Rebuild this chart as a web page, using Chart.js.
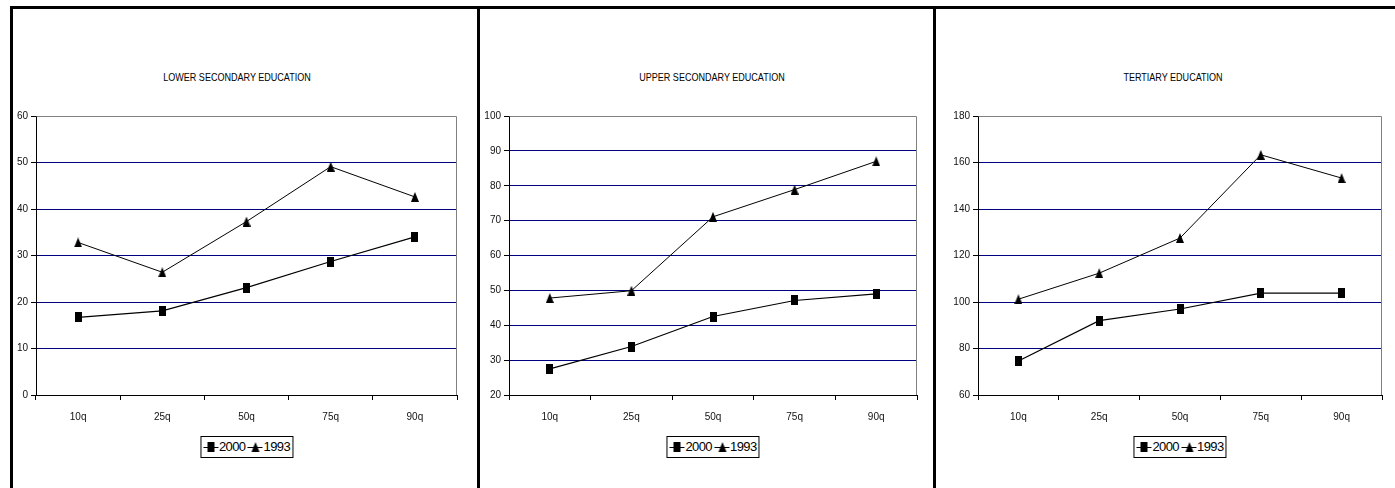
<!DOCTYPE html>
<html>
<head>
<meta charset="utf-8">
<title>Earnings by quantile, 1993 and 2000</title>
<script src="https://cdn.jsdelivr.net/npm/chart.js@4/dist/chart.umd.min.js"></script>
<style>
  html, body { margin: 0; padding: 0; background: #fff; }
  body {
    position: relative; width: 1395px; height: 488px; overflow: hidden;
    font-family: "Liberation Sans Narrow", "Arial Narrow", "Liberation Sans", Arial, sans-serif;
    color: #000;
  }
  .rule { position: absolute; background: #000; }
  .title {
    position: absolute; top: 71px; font-size: 10.5px; line-height: 12px;
    white-space: nowrap; transform: translateX(-50%) scaleX(0.86);
  }
  canvas.plot { position: absolute; top: 100px; }
  .legend {
    position: absolute; top: 436px; height: 20px; box-sizing: content-box;
    border: 1px solid #000; background: #fff; transform: translateX(-50%);
    display: flex; align-items: center; padding: 0 2px;
    font-size: 13px; letter-spacing: -0.6px; line-height: 20px; white-space: nowrap;
  }
  .legend .item { display: flex; align-items: center; margin-right: 2px; }
  .legend .item:last-child { margin-right: 0; }
  .legend canvas { display: block; margin-right: 1px; }
</style>
</head>
<body>

<div class="rule" style="left:10px;top:6px;width:1385px;height:3px"></div>
<div class="rule" style="left:10px;top:6px;width:3px;height:482px"></div>
<div class="rule" style="left:477px;top:6px;width:3px;height:482px"></div>
<div class="rule" style="left:933px;top:6px;width:3px;height:482px"></div>

<div class="title" id="t1" style="left:237px">LOWER SECONDARY EDUCATION</div>
<div class="title" id="t2" style="left:712px">UPPER SECONDARY EDUCATION</div>
<div class="title" id="t3" style="left:1173px">TERTIARY EDUCATION</div>

<canvas class="plot" id="c1" style="left:13px" width="464" height="330"></canvas>
<canvas class="plot" id="c2" style="left:480px" width="453" height="330"></canvas>
<canvas class="plot" id="c3" style="left:936px" width="459" height="330"></canvas>

<div class="legend" id="l1" style="left:246.5px"></div>
<div class="legend" id="l2" style="left:713px"></div>
<div class="legend" id="l3" style="left:1180px"></div>

<script>
// Quantile categories shared by all three panels
const quantiles = ['10q', '25q', '50q', '75q', '90q'];
const seriesLabels = ['2000', '1993'];

// Lower secondary education
const lowerSec2000 = [16.7, 18.1, 23.1, 28.7, 34.0];
const lowerSec1993 = [32.8, 26.4, 37.3, 49.1, 42.6];
const lowerSecTicks = [0, 10, 20, 30, 40, 50, 60];

// Upper secondary education
const upperSec2000 = [27.5, 33.9, 42.5, 47.1, 49.0];
const upperSec1993 = [47.8, 49.9, 71.1, 78.9, 87.0];
const upperSecTicks = [20, 30, 40, 50, 60, 70, 80, 90, 100];

// Tertiary education
const tertiary2000 = [74.6, 92.0, 97.0, 103.8, 103.8];
const tertiary1993 = [101.2, 112.4, 127.5, 163.3, 153.3];
const tertiaryTicks = [60, 80, 100, 120, 140, 160, 180];

const FONT = '"Liberation Sans Narrow", "Arial Narrow", "Liberation Sans", Arial, sans-serif';
const GRID = '#000080';
const FRAME = '#808080';

// Marker glyphs (slightly taller than wide)
function squareMarker() {
  const c = document.createElement('canvas');
  c.width = 7; c.height = 10;
  const g = c.getContext('2d');
  g.fillStyle = '#000';
  g.fillRect(0, 0, 7, 10);
  return c;
}
function triangleMarker() {
  const c = document.createElement('canvas');
  c.width = 8; c.height = 10;
  const g = c.getContext('2d');
  g.fillStyle = '#000';
  g.beginPath();
  g.moveTo(4, 0); g.lineTo(8, 10); g.lineTo(0, 10); g.closePath();
  g.fill();
  return c;
}

// Gray top and right edges of the plotting area
const plotFrame = {
  id: 'plotFrame',
  beforeDatasetsDraw(chart) {
    const { ctx, chartArea: a } = chart;
    ctx.save();
    ctx.strokeStyle = FRAME;
    ctx.lineWidth = 1;
    ctx.beginPath();
    ctx.moveTo(Math.round(a.left) + 0.5, Math.round(a.top) + 0.5);
    ctx.lineTo(Math.round(a.right) - 0.5, Math.round(a.top) + 0.5);
    ctx.lineTo(Math.round(a.right) - 0.5, Math.round(a.bottom));
    ctx.stroke();
    ctx.restore();
  }
};

// Boxed legend built from the chart's datasets
const boxedLegend = {
  id: 'boxedLegend',
  afterUpdate(chart, args, opts) {
    const box = document.getElementById(opts.containerID);
    box.innerHTML = '';
    chart.data.datasets.forEach(ds => {
      const item = document.createElement('span');
      item.className = 'item';
      const icon = document.createElement('canvas');
      icon.width = 15; icon.height = 12;
      const g = icon.getContext('2d');
      g.strokeStyle = '#000'; g.lineWidth = 1;
      g.beginPath(); g.moveTo(0, 6.5); g.lineTo(15, 6.5); g.stroke();
      const m = ds.pointStyle;
      g.drawImage(m, Math.round((15 - m.width) / 2), Math.round((12 - m.height) / 2));
      const txt = document.createElement('span');
      txt.textContent = ds.label;
      item.appendChild(icon);
      item.appendChild(txt);
      box.appendChild(item);
    });
  }
};

function makePanel(canvasId, legendId, v2000, v1993, ticks, yWidth, padRight) {
  const lo = ticks[0], hi = ticks[ticks.length - 1];
  const step = ticks[1] - ticks[0];
  return new Chart(document.getElementById(canvasId), {
    type: 'line',
    data: {
      labels: quantiles,
      datasets: [
        { label: seriesLabels[0], data: v2000, borderColor: '#000', borderWidth: 1.2,
          pointStyle: squareMarker(), pointRadius: 5, fill: false, tension: 0 },
        { label: seriesLabels[1], data: v1993, borderColor: '#000', borderWidth: 1,
          pointStyle: triangleMarker(), pointRadius: 5, fill: false, tension: 0 }
      ]
    },
    options: {
      responsive: false,
      animation: false,
      events: [],
      layout: { padding: { top: 16, right: padRight, bottom: 0, left: 0 } },
      plugins: {
        legend: { display: false },
        title: { display: false },
        tooltip: { enabled: false },
        boxedLegend: { containerID: legendId }
      },
      scales: {
        x: {
          type: 'category',
          offset: true,
          border: { display: true, color: '#000', width: 1 },
          grid: { display: true, drawOnChartArea: false, offset: true,
                  tickLength: 5, tickColor: '#000', tickWidth: 1 },
          ticks: { color: '#111', padding: 11, maxRotation: 0,
                   font: { family: FONT, size: 10 } },
          afterFit(scale) { scale.height = 35; }
        },
        y: {
          min: lo, max: hi,
          border: { display: true, color: '#000', width: 1 },
          grid: {
            tickLength: 5, tickColor: '#000', tickWidth: 1, lineWidth: 1,
            color: c => (c.tick && (c.tick.value === hi || c.tick.value === lo)) ? 'rgba(0,0,0,0)' : GRID
          },
          ticks: { stepSize: step, color: '#111', padding: 3,
                   font: { family: FONT, size: 10 } },
          afterFit(scale) { scale.width = yWidth; }
        }
      }
    },
    plugins: [plotFrame, boxedLegend]
  });
}

makePanel('c1', 'l1', lowerSec2000, lowerSec1993, lowerSecTicks, 23, 20);
makePanel('c2', 'l2', upperSec2000, upperSec1993, upperSecTicks, 29, 16);
makePanel('c3', 'l3', tertiary2000, tertiary1993, tertiaryTicks, 42, 13);
</script>
</body>
</html>
